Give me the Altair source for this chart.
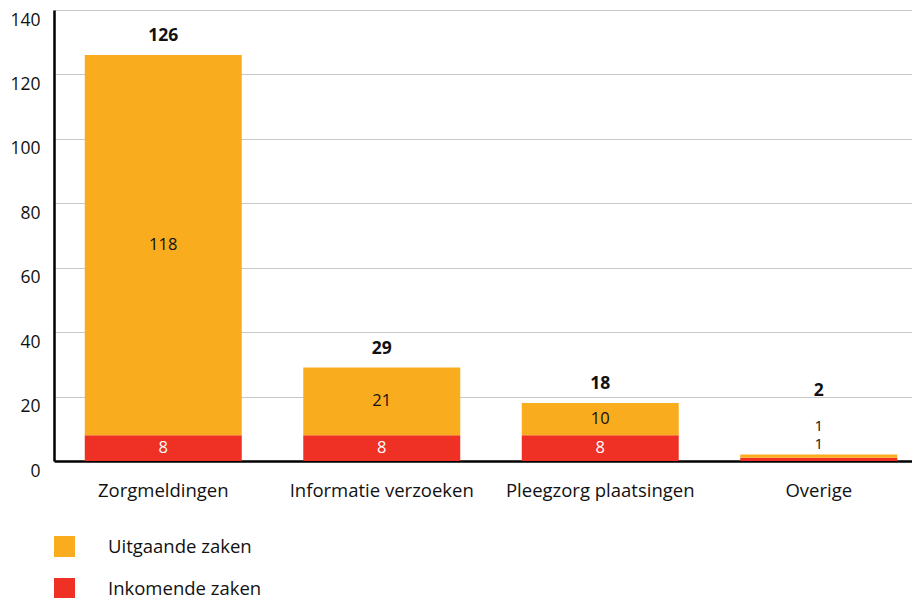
import altair as alt
import pandas as pd

categories = ["Zorgmeldingen", "Informatie verzoeken", "Pleegzorg plaatsingen", "Overige"]
inkomend = [8, 8, 8, 1]
uitgaand = [118, 21, 10, 1]
series = ["Uitgaande zaken", "Inkomende zaken"]
colors = ["#FAAC1F", "#EE3124"]
FONT = "Open Sans"

rows = []
for c, i, u in zip(categories, inkomend, uitgaand):
    rows.append({"cat": c, "serie": "Inkomende zaken", "val": i, "ord": 0})
    rows.append({"cat": c, "serie": "Uitgaande zaken", "val": u, "ord": 1})
df = pd.DataFrame(rows)
tot = pd.DataFrame({"cat": categories, "total": [a + b for a, b in zip(inkomend, uitgaand)],
                    "ink": inkomend, "uit": uitgaand})

xenc = alt.X("cat:N", sort=categories, title=None,
             scale=alt.Scale(range=[0, 874], paddingInner=0.2815, paddingOuter=0.1408),
             axis=alt.Axis(labelAngle=0, ticks=False, labelPadding=20, labelFontSize=18.5,
                           labelLimit=400,
                           labelFont=FONT, labelColor="#111", domainColor="#000",
                           domainWidth=2.5))

bars = alt.Chart(df).mark_bar().encode(
    x=xenc,
    y=alt.Y("val:Q", stack="zero", title=None,
            scale=alt.Scale(domain=[0, 140], nice=False),
            axis=alt.Axis(values=[0, 20, 40, 60, 80, 100, 120, 140], ticks=False,
                          labelPadding=14, labelFontSize=17.5, labelFont=FONT, labelColor="#111",
                          labelBaseline="middle", labelOffset=10,
                          gridColor="#c8c8c8", gridWidth=1.2,
                          domainColor="#000", domainWidth=2.5)),
    color=alt.Color("serie:N", scale=alt.Scale(domain=series, range=colors),
                    legend=alt.Legend(title=None, orient="none", legendX=0, legendY=526,
                                      symbolType="square", symbolSize=441, symbolStrokeWidth=0,
                                      labelFontSize=18.5, labelFont=FONT, labelColor="#111",
                                      labelOffset=33, rowPadding=21, direction="vertical")),
    order=alt.Order("ord:Q"),
)

main = tot[tot["cat"] != "Overige"]
other = tot[tot["cat"] == "Overige"]

mid_uit = alt.Chart(main).transform_calculate(m="datum.ink + datum.uit/2").mark_text(
    font=FONT, fontSize=16.5, color="#111").encode(x=alt.X("cat:N", sort=categories), y="m:Q", text="uit:Q")
mid_ink = alt.Chart(main).transform_calculate(m="datum.ink/2").mark_text(
    font=FONT, fontSize=16.5, color="#fff").encode(x=alt.X("cat:N", sort=categories), y="m:Q", text="ink:Q")
tot_main = alt.Chart(main).mark_text(font=FONT, fontSize=17.5, fontWeight="bold", color="#111", dy=-19).encode(
    x=alt.X("cat:N", sort=categories), y="total:Q", text="total:Q")

o_ink = alt.Chart(other).mark_text(font=FONT, fontSize=15, color="#111", dy=-11).encode(
    x=alt.X("cat:N", sort=categories), y="total:Q", text="ink:Q")
o_uit = alt.Chart(other).mark_text(font=FONT, fontSize=15, color="#111", dy=-29).encode(
    x=alt.X("cat:N", sort=categories), y="total:Q", text="uit:Q")
o_tot = alt.Chart(other).mark_text(font=FONT, fontSize=17.5, fontWeight="bold", color="#111", dy=-64).encode(
    x=alt.X("cat:N", sort=categories), y="total:Q", text="total:Q")

chart = alt.layer(bars, mid_uit, mid_ink, tot_main, o_ink, o_uit, o_tot).properties(
    width=858, height=451,
    autosize=alt.AutoSizeParams(type="none"),
    padding={"left": 46, "top": 2, "right": 0, "bottom": 137},
).configure_view(stroke=None).configure_axisX(grid=False)

chart.save("out.html", embed_options={"renderer": "svg", "actions": False})
